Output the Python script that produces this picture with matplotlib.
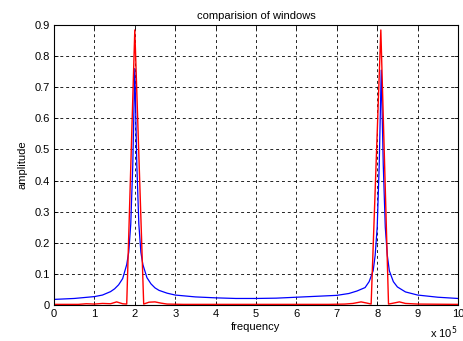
import matplotlib
matplotlib.use("Agg")
import matplotlib.pyplot as plt
import numpy as np

plt.rcParams['font.family'] = ['Liberation Sans', 'DejaVu Sans']

# spectrum (frequency in units of 1e5)
blue_f = [0.0, 0.5, 1.0, 1.2, 1.4, 1.5, 1.6, 1.7, 1.8, 1.85, 1.9, 1.95, 2.0,
          2.05, 2.1, 2.15, 2.2, 2.3, 2.4, 2.5, 2.6, 2.8, 3.0, 3.5, 4.0, 4.5,
          5.0, 5.5, 6.0, 6.5, 7.0, 7.3, 7.5, 7.7, 7.8, 7.9, 7.95, 8.0, 8.05,
          8.1, 8.15, 8.2, 8.25, 8.3, 8.4, 8.5, 8.7, 9.0, 9.5, 10.0]
blue_a = [0.018, 0.021, 0.027, 0.032, 0.043, 0.052, 0.065, 0.085, 0.13, 0.17,
          0.26, 0.45, 0.76, 0.45, 0.26, 0.17, 0.13, 0.088, 0.068, 0.055, 0.047,
          0.038, 0.032, 0.026, 0.023, 0.021, 0.021, 0.022, 0.025, 0.028, 0.031,
          0.037, 0.045, 0.056, 0.075, 0.11, 0.16, 0.25, 0.45, 0.755, 0.45,
          0.25, 0.16, 0.11, 0.075, 0.058, 0.042, 0.032, 0.025, 0.021]

red_f = [0.0, 0.6, 0.8, 1.0, 1.2, 1.4, 1.55, 1.7, 1.8, 2.0, 2.22, 2.35, 2.5,
         2.65, 2.8, 3.2, 6.8, 7.2, 7.4, 7.6, 7.75, 7.85, 8.09, 8.28, 8.4,
         8.55, 8.7, 9.0, 10.0]
red_a = [0.002, 0.002, 0.004, 0.003, 0.005, 0.004, 0.01, 0.004, 0.003, 0.884,
         0.003, 0.009, 0.01, 0.006, 0.003, 0.002, 0.002, 0.003, 0.005, 0.01,
         0.006, 0.003, 0.884, 0.003, 0.006, 0.01, 0.005, 0.003, 0.002]

fig = plt.figure(figsize=(4.64, 3.41), dpi=100)
ax = fig.add_axes([54/464, 1-305/341, 404/464, 280/341])

ax.plot(blue_f, blue_a, color='#0000ff', lw=0.9)
ax.plot(red_f, red_a, color='#ff0000', lw=1.0)

ax.set_xlim(0, 10)
ax.set_ylim(0, 0.9)
ax.set_xticks(np.arange(0, 11, 1))
ax.set_yticks(np.arange(0, 0.91, 0.1))
ax.set_xticklabels([str(i) for i in range(11)])
ax.set_yticklabels(['0'] + ['%.1f' % v for v in np.arange(0.1, 0.91, 0.1)])
ax.tick_params(direction='in', length=3, width=0.6, labelsize=8,
               top=True, right=True, pad=3)
ax.grid(True, color='black', linestyle=(0, (3.5, 3.5)), linewidth=0.6)
for s in ax.spines.values():
    s.set_linewidth(0.8)

ax.set_title('comparision of windows', fontsize=8, pad=4)
ax.set_xlabel('frequency', fontsize=8, labelpad=2)
ax.set_ylabel('amplitude', fontsize=8, labelpad=5)
fig.text(430/464, 1-333/341, r'x 10$^5$', fontsize=8, va='center')

fig.savefig('out.png', dpi=100)
